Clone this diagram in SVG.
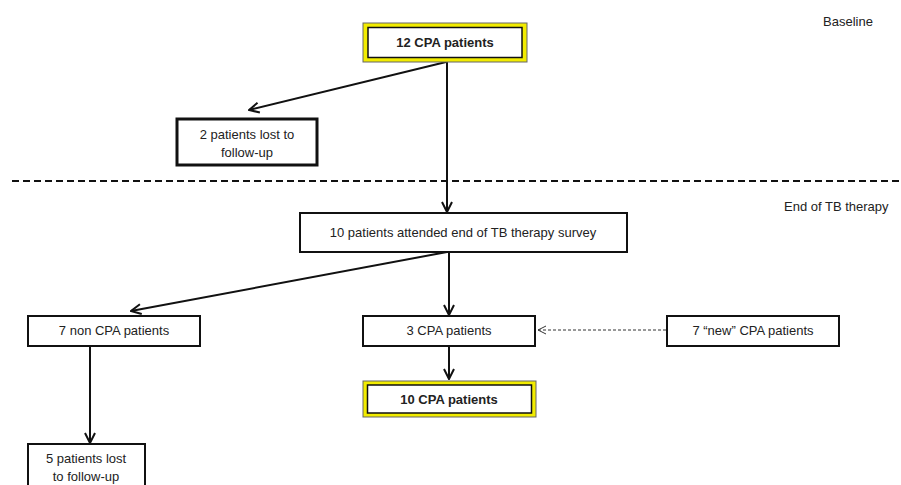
<svg xmlns="http://www.w3.org/2000/svg" width="901" height="485" viewBox="0 0 901 485">
<style>
text{font-family:"Liberation Sans",Arial,sans-serif;font-size:13px;fill:#222;text-anchor:middle}
.b{font-weight:bold}
.lbl{text-anchor:start}
.box{fill:#fff;stroke:#111;stroke-width:2}
.thick{fill:#fff;stroke:#111;stroke-width:3}
.yo{fill:#f2ec00;stroke:#666;stroke-width:1}
.yi{fill:#fff;stroke:#111;stroke-width:1.5}
.c{fill:none;stroke:#111;stroke-width:2}
.d{fill:none;stroke:#333;stroke-width:1;stroke-dasharray:3 2}
</style>
<defs>
<marker id="ah" viewBox="0 0 12 12" refX="11" refY="6" markerWidth="12" markerHeight="12" markerUnits="userSpaceOnUse" orient="auto">
<path d="M1,1 L11,6 L1,11" fill="none" stroke="#111" stroke-width="2"/>
</marker>
<marker id="ah2" viewBox="0 0 10 10" refX="9" refY="5" markerWidth="10" markerHeight="10" markerUnits="userSpaceOnUse" orient="auto">
<path d="M1,1 L9,5 L1,9" fill="none" stroke="#333" stroke-width="1"/>
</marker>
</defs>
<rect width="901" height="485" fill="#fff"/>
<line x1="12" y1="181" x2="901" y2="181" stroke="#111" stroke-width="2" stroke-dasharray="7 4"/>
<text class="lbl" x="823" y="26" font-size="12">Baseline</text>
<text class="lbl" x="784" y="211" font-size="12">End of TB therapy</text>
<g id="connectors">
<line class="c" x1="446" y1="62" x2="249" y2="110" marker-end="url(#ah)"/>
<line class="c" x1="447" y1="62" x2="447" y2="212" marker-end="url(#ah)"/>
<line class="c" x1="447" y1="252" x2="131" y2="311" marker-end="url(#ah)"/>
<line class="c" x1="449" y1="252" x2="449" y2="315" marker-end="url(#ah)"/>
<line class="c" x1="90" y1="347" x2="90" y2="443" marker-end="url(#ah)"/>
<line class="c" x1="449" y1="345" x2="449" y2="379" marker-end="url(#ah)"/>
<line class="d" x1="666" y1="330" x2="538" y2="330" marker-end="url(#ah2)"/>
</g>
<g id="n12cpa">
<rect class="yo" x="363" y="23" width="164" height="39"/>
<rect class="yi" x="368" y="27.5" width="154" height="30"/>
<text class="b" x="445" y="47">12 CPA patients</text>
</g>
<g id="lost2">
<rect class="thick" x="177" y="119" width="140" height="46"/>
<text x="247" y="139">2 patients lost to</text>
<text x="247" y="157">follow-up</text>
</g>
<g id="attended">
<rect class="box" x="300" y="213" width="327" height="39"/>
<text x="463" y="237">10 patients attended end of TB therapy survey</text>
</g>
<g id="noncpa">
<rect class="box" x="28" y="316" width="172" height="30"/>
<text x="114" y="335">7 non CPA patients</text>
</g>
<g id="cpa3">
<rect class="box" x="363" y="316" width="172" height="30"/>
<text x="449" y="335">3 CPA patients</text>
</g>
<g id="newcpa">
<rect class="box" x="667" y="316" width="172" height="30"/>
<text x="753" y="335">7 “new” CPA patients</text>
</g>
<g id="n10cpa">
<rect class="yo" x="363" y="381" width="173" height="36"/>
<rect class="yi" x="367.5" y="385" width="164" height="28"/>
<text class="b" x="449" y="404">10 CPA patients</text>
</g>
<g id="lost5">
<rect class="box" x="28" y="444" width="117" height="45"/>
<text x="86" y="463">5 patients lost</text>
<text x="86" y="481">to follow-up</text>
</g>
</svg>
